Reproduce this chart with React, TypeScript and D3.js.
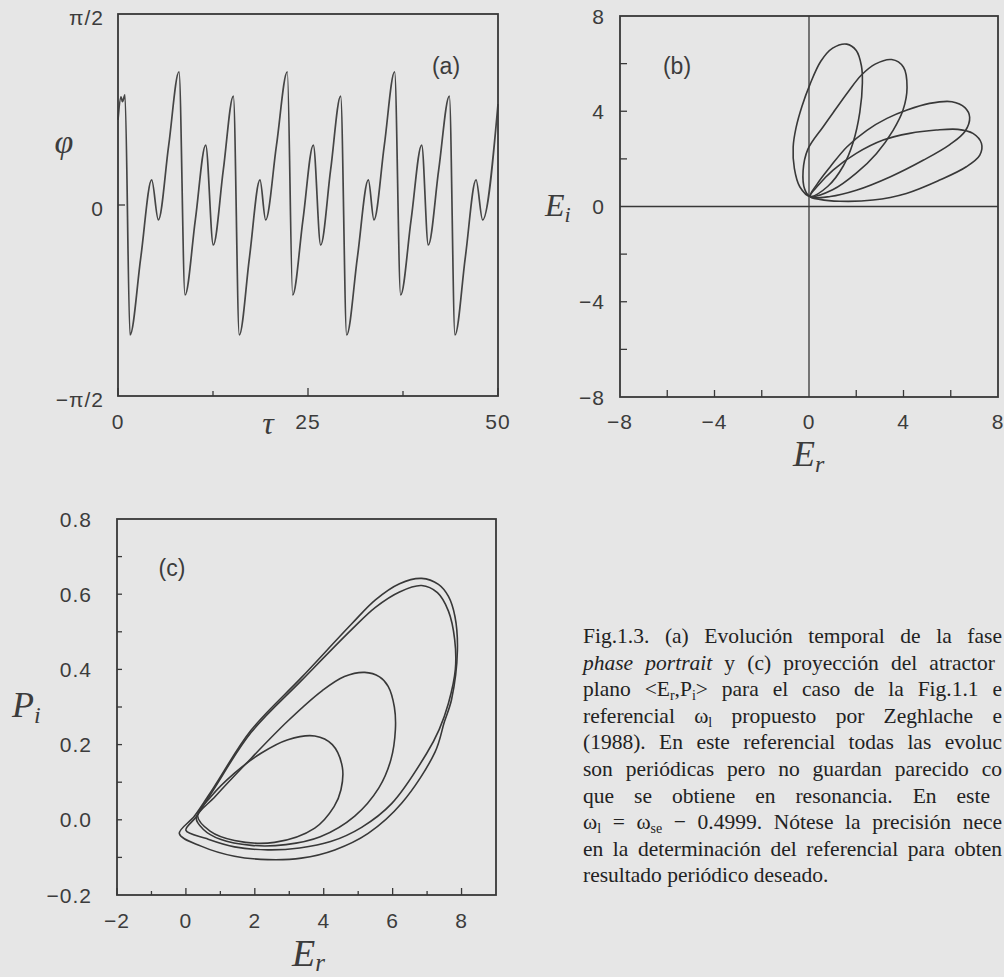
import React, { useLayoutEffect, useRef } from 'react';
import * as d3 from 'd3';

// ---------- panel (a): phase φ against time τ ----------
const tauA = [0, 0.39, 0.59, 0.92,
  1.58, 3.0, 4.43, 5.31, 6.67, 8.03, 8.82, 10.18, 11.54, 12.54, 13.86, 15.18,
  15.96, 17.3, 18.68, 19.43, 20.85, 22.28, 22.98, 24.34, 25.7, 26.67, 27.98, 29.3,
  30.09, 31.5, 32.94, 33.68, 35.04, 36.4, 37.19, 38.57, 39.96, 40.83, 42.2, 43.6,
  44.34, 45.7, 47.11, 47.98, 50];
const phiA = [0.7, 0.89, 0.85, 0.905,
  -1.069, -0.43, 0.206, -0.123, 0.49, 1.096, -0.74, -0.12, 0.493, -0.329, 0.29, 0.896,
  -1.069, -0.43, 0.206, -0.123, 0.49, 1.096, -0.74, -0.12, 0.493, -0.329, 0.29, 0.896,
  -1.069, -0.43, 0.206, -0.123, 0.49, 1.096, -0.74, -0.12, 0.493, -0.329, 0.29, 0.896,
  -1.069, -0.43, 0.206, -0.123, 0.83];
const tauTicks = [0, 25, 50];
const tauMinor = [12.5, 37.5];
const phiTicks = [Math.PI / 2, 0, -Math.PI / 2];
const phiTickLabels = ['π/2', '0', '−π/2'];

// ---------- panel (b): phase portrait (Er, Ei), four petals ----------
const petal1: [number, number][] = [
  [0.05, 0.42], [-0.39, 0.83], [-0.62, 1.6], [-0.67, 2.5], [-0.55, 3.3], [-0.3, 4.2],
  [0.05, 5.15], [0.5, 6.1], [1.0, 6.65], [1.6, 6.82], [2.0, 6.55], [2.22, 5.9],
  [2.26, 5.2], [2.15, 3.95], [1.87, 2.7], [1.45, 1.7], [0.8, 0.85]];
const petal2: [number, number][] = [
  [0.05, 0.42], [-0.18, 0.72], [-0.25, 1.5], [-0.05, 2.4], [0.6, 3.35], [1.1, 4.05],
  [1.66, 4.82], [2.22, 5.52], [2.8, 5.98], [3.5, 6.17], [4.0, 5.85], [4.15, 5.0],
  [3.98, 4.05], [3.56, 3.2], [2.86, 2.23], [2.0, 1.4], [1.0, 0.7]];
const petal3: [number, number][] = [
  [0.05, 0.42], [0.35, 0.95], [0.9, 1.67], [1.6, 2.5], [2.45, 3.2], [3.3, 3.7],
  [4.15, 4.05], [5.1, 4.33], [6.05, 4.4], [6.6, 4.15], [6.8, 3.75], [6.6, 3.15],
  [5.96, 2.6], [4.85, 1.95], [3.45, 1.25], [2.0, 0.68], [0.9, 0.42]];
const petal4: [number, number][] = [
  [0.05, 0.42], [0.4, 0.9], [1.02, 1.53], [2.0, 2.23], [3.14, 2.79], [4.26, 3.07],
  [5.39, 3.21], [6.3, 3.24], [6.94, 3.07], [7.3, 2.65], [7.23, 2.16], [6.66, 1.67],
  [5.53, 1.11], [4.12, 0.55], [2.71, 0.27], [1.3, 0.22], [0.46, 0.3]];
const bLabelTicks = [-8, -4, 0, 4, 8];
const bTickMarks = [-6, -4, -2, 2, 4, 6];

// ---------- panel (c): projection onto (Er, Pi) ----------
const loopA: [number, number][] = [
  [-0.19, -0.037], [0.25, 0.01], [0.8, 0.085], [1.89, 0.238], [3.35, 0.378], [4.8, 0.52],
  [5.5, 0.585], [6.2, 0.628], [6.84, 0.642], [7.33, 0.626], [7.62, 0.594], [7.81, 0.54],
  [7.88, 0.45], [7.71, 0.32], [7.5, 0.26], [7.23, 0.18], [6.26, 0.044], [5.29, -0.036],
  [4.32, -0.08], [3.35, -0.102], [2.38, -0.106], [1.41, -0.097], [0.44, -0.07]];
const loopB: [number, number][] = [
  [0.0, -0.028], [0.3, 0.008], [0.8, 0.08], [1.89, 0.232], [3.35, 0.37], [4.8, 0.505],
  [5.5, 0.565], [6.2, 0.606], [6.84, 0.623], [7.3, 0.604], [7.62, 0.555], [7.8, 0.48],
  [7.82, 0.4], [7.62, 0.31], [7.35, 0.24], [6.99, 0.177], [5.97, 0.043], [5.1, -0.02],
  [4.2, -0.058], [3.3, -0.075], [2.38, -0.08], [1.41, -0.072], [0.6, -0.05]];
const loopC: [number, number][] = [
  [0.3, 0.005], [0.85, 0.062], [1.7, 0.145], [2.95, 0.262], [3.95, 0.343], [4.6, 0.381],
  [5.19, 0.392], [5.62, 0.38], [5.87, 0.355], [6.05, 0.3], [6.08, 0.24], [5.95, 0.16],
  [5.6, 0.085], [4.9, 0.01], [3.9, -0.045], [2.9, -0.066], [1.9, -0.068], [1.0, -0.052],
  [0.5, -0.025]];
const loopD: [number, number][] = [
  [0.34, 0.01], [0.73, 0.062], [1.41, 0.124], [2.18, 0.177], [2.96, 0.213], [3.74, 0.223],
  [4.25, 0.2], [4.54, 0.14], [4.5, 0.08], [4.3, 0.035], [3.74, -0.022], [2.57, -0.06],
  [1.41, -0.055], [0.7, -0.03]];
const cXLabels = [-2, 0, 2, 4, 6, 8];
const cXMinor = [-1, 1, 3, 5, 7];
const cYLabels = [-0.2, 0.0, 0.2, 0.4, 0.6, 0.8];
const cYMarks = [-0.1, 0.0, 0.1, 0.2, 0.3, 0.4, 0.5, 0.6, 0.7];

const INK = '#383838';
const CURVE = '#383838';
const TXT = '#3c3c3c';
const TICKFONT = '"Liberation Sans", Arial, sans-serif';
const SERIF = '"Liberation Serif", "Times New Roman", serif';

function PanelA() {
  const x = d3.scaleLinear().domain([0, 50]).range([118, 498]);
  const y = d3.scaleLinear().domain([-Math.PI / 2, Math.PI / 2]).range([396, 14]);
  const pts = tauA.map((t, i) => [t, phiA[i]] as [number, number]);
  const path = d3.line<[number, number]>().x(d => x(d[0])).y(d => y(d[1])).curve(d3.curveMonotoneX)(pts) || '';
  return (
    <g>
      <path d={path} fill="none" stroke="#454545" strokeWidth={1.7} strokeLinejoin="round" />
      <rect x={118} y={14} width={380} height={382} fill="none" stroke={INK} strokeWidth={1.8} />
      {tauMinor.map(t => <line key={t} x1={x(t)} x2={x(t)} y1={396} y2={391} stroke={INK} strokeWidth={1.3} />)}
      {tauTicks.map(t => <line key={t} x1={x(t)} x2={x(t)} y1={396} y2={388} stroke={INK} strokeWidth={1.3} />)}
      <line x1={118} x2={125} y1={y(0)} y2={y(0)} stroke={INK} strokeWidth={1.3} />
      {tauTicks.map(t => (
        <text key={t} x={x(t)} y={421} textAnchor="middle" dominantBaseline="central"
          fontFamily={TICKFONT} fontSize={21} fill={TXT} letterSpacing={1}>{t}</text>
      ))}
      {phiTicks.map((v, i) => (
        <text key={i} x={104} y={y(v) + 3} textAnchor="end" dominantBaseline="central"
          fontFamily={TICKFONT} fontSize={21} fill={TXT} letterSpacing={1}>{phiTickLabels[i]}</text>
      ))}
      <text x={446} y={66} textAnchor="middle" dominantBaseline="central" fontFamily={TICKFONT} fontSize={23} fill={TXT}>(a)</text>
      <text x={64} y={153} textAnchor="middle" fontFamily={SERIF} fontStyle="italic" fontSize={34} fill={TXT}>φ</text>
      <text x={268} y={434} textAnchor="middle" fontFamily={SERIF} fontStyle="italic" fontSize={32} fill={TXT}>τ</text>
    </g>
  );
}

function PanelB() {
  const x = d3.scaleLinear().domain([-8, 8]).range([620, 998]);
  const y = d3.scaleLinear().domain([-8, 8]).range([397, 16]);
  const closed = d3.line<[number, number]>().x(d => x(d[0])).y(d => y(d[1])).curve(d3.curveCatmullRomClosed.alpha(0.5));
  const petals = [petal1, petal2, petal3, petal4];
  return (
    <g>
      <line x1={x(0)} x2={x(0)} y1={16} y2={397} stroke={INK} strokeWidth={1.3} />
      <line x1={620} x2={998} y1={y(0)} y2={y(0)} stroke={INK} strokeWidth={1.3} />
      {petals.map((p, i) => <path key={i} d={closed(p) || ''} fill="none" stroke={CURVE} strokeWidth={1.6} />)}
      <rect x={620} y={16} width={378} height={381} fill="none" stroke={INK} strokeWidth={1.8} />
      {bTickMarks.map(v => <line key={'bx' + v} x1={x(v)} x2={x(v)} y1={397} y2={390} stroke={INK} strokeWidth={1.3} />)}
      {bTickMarks.map(v => <line key={'by' + v} x1={620} x2={627} y1={y(v)} y2={y(v)} stroke={INK} strokeWidth={1.3} />)}
      {bLabelTicks.map(v => (
        <text key={'lx' + v} x={x(v)} y={421} textAnchor="middle" dominantBaseline="central"
          fontFamily={TICKFONT} fontSize={21} fill={TXT} letterSpacing={1}>{v < 0 ? '−' + Math.abs(v) : v}</text>
      ))}
      {bLabelTicks.map(v => (
        <text key={'ly' + v} x={605} y={y(v)} textAnchor="end" dominantBaseline="central"
          fontFamily={TICKFONT} fontSize={21} fill={TXT} letterSpacing={1}>{v < 0 ? '−' + Math.abs(v) : v}</text>
      ))}
      <text x={677} y={66} textAnchor="middle" dominantBaseline="central" fontFamily={TICKFONT} fontSize={23} fill={TXT}>(b)</text>
      <text x={545} y={216} fontFamily={SERIF} fontStyle="italic" fontSize={32} fill={TXT}>
        E<tspan fontSize={22} dy={6}>i</tspan>
      </text>
      <text x={793} y={466} fontFamily={SERIF} fontStyle="italic" fontSize={36} fill={TXT}>
        E<tspan fontSize={24} dy={6}>r</tspan>
      </text>
    </g>
  );
}

function PanelC() {
  const x = d3.scaleLinear().domain([-2, 9]).range([117, 496]);
  const y = d3.scaleLinear().domain([-0.2, 0.8]).range([895, 519]);
  const closed = d3.line<[number, number]>().x(d => x(d[0])).y(d => y(d[1])).curve(d3.curveCatmullRomClosed.alpha(0.5));
  const loops = [loopA, loopB, loopC, loopD];
  return (
    <g>
      {loops.map((p, i) => <path key={i} d={closed(p) || ''} fill="none" stroke={CURVE} strokeWidth={1.6} />)}
      <rect x={117} y={519} width={379} height={376} fill="none" stroke={INK} strokeWidth={1.8} />
      {cXLabels.map(v => <line key={'cx' + v} x1={x(v)} x2={x(v)} y1={895} y2={888} stroke={INK} strokeWidth={1.3} />)}
      {cXMinor.map(v => <line key={'cm' + v} x1={x(v)} x2={x(v)} y1={895} y2={891} stroke={INK} strokeWidth={1.3} />)}
      {cYMarks.map(v => <line key={'cy' + v} x1={117} x2={122} y1={y(v)} y2={y(v)} stroke={INK} strokeWidth={1.3} />)}
      {cXLabels.map(v => (
        <text key={'lx' + v} x={x(v)} y={920} textAnchor="middle" dominantBaseline="central"
          fontFamily={TICKFONT} fontSize={21} fill={TXT} letterSpacing={1}>{v < 0 ? '−' + Math.abs(v) : v}</text>
      ))}
      {cYLabels.map(v => (
        <text key={'ly' + v} x={92} y={y(v)} textAnchor="end" dominantBaseline="central"
          fontFamily={TICKFONT} fontSize={21} fill={TXT} letterSpacing={1}>{(v < 0 ? '−' : '') + Math.abs(v).toFixed(1)}</text>
      ))}
      <text x={172} y={568} textAnchor="middle" dominantBaseline="central" fontFamily={TICKFONT} fontSize={23} fill={TXT}>(c)</text>
      <text x={12} y={717} fontFamily={SERIF} fontStyle="italic" fontSize={36} fill={TXT}>
        P<tspan fontSize={24} dy={6}>i</tspan>
      </text>
      <text x={292} y={966} fontFamily={SERIF} fontStyle="italic" fontSize={38} fill={TXT}>
        E<tspan fontSize={25} dy={5}>r</tspan>
      </text>
    </g>
  );
}

// A caption line justified by widening the word gaps so that it ends at `right`.
function JustLine({ x, y, right, children }: { x: number; y: number; right?: number; children: React.ReactNode }) {
  const ref = useRef<SVGTextElement>(null);
  useLayoutEffect(() => {
    const el = ref.current;
    if (!el || right == null) return;
    el.style.wordSpacing = '0px';
    const natural = el.getComputedTextLength();
    const gaps = (el.textContent || '').split(' ').length - 1;
    if (gaps > 0) el.style.wordSpacing = `${Math.max(0, (right - x - natural) / gaps)}px`;
  }, [x, right]);
  return (
    <text ref={ref} x={x} y={y} fontFamily={SERIF} fontSize={21.5} fill="#222">{children}</text>
  );
}

function Caption() {
  const x0 = 583;
  const y0 = 643;
  const dy = 26.6;
  const sub = 14;
  return (
    <g>
      <JustLine x={x0} y={y0} right={1002}>Fig.1.3. (a) Evolución temporal de la fase</JustLine>
      <JustLine x={x0} y={y0 + dy} right={995}>
        <tspan fontStyle="italic">phase portrait</tspan> y (c) proyección del atractor
      </JustLine>
      <JustLine x={x0} y={y0 + 2 * dy} right={1002}>
        plano &lt;E<tspan fontSize={sub} dy={4}>r</tspan><tspan dy={-4}>,P</tspan><tspan fontSize={sub} dy={4}>i</tspan><tspan dy={-4}>&gt; para el caso de la Fig.1.1 e</tspan>
      </JustLine>
      <JustLine x={x0} y={y0 + 3 * dy} right={1002}>
        referencial ω<tspan fontSize={sub} dy={4}>l</tspan><tspan dy={-4}> propuesto por Zeghlache e</tspan>
      </JustLine>
      <JustLine x={x0} y={y0 + 4 * dy} right={1002}>(1988). En este referencial todas las evoluc</JustLine>
      <JustLine x={x0} y={y0 + 5 * dy} right={1002}>son periódicas pero no guardan parecido co</JustLine>
      <JustLine x={x0} y={y0 + 6 * dy} right={990}>que se obtiene en resonancia. En este</JustLine>
      <JustLine x={x0} y={y0 + 7 * dy} right={1002}>
        ω<tspan fontSize={sub} dy={4}>l</tspan><tspan dy={-4}> = ω</tspan><tspan fontSize={sub} dy={4}>se</tspan><tspan dy={-4}> − 0.4999. Nótese la precisión nece</tspan>
      </JustLine>
      <JustLine x={x0} y={y0 + 8 * dy} right={1002}>en la determinación del referencial para obten</JustLine>
      <JustLine x={x0} y={y0 + 9 * dy}>resultado periódico deseado.</JustLine>
    </g>
  );
}

export default function App() {
  return (
    <svg width={1004} height={977} viewBox="0 0 1004 977"
      style={{ position: 'absolute', left: 0, top: 0, display: 'block' }}>
      <rect x={0} y={0} width={1004} height={977} fill="#e6e6e6" />
      <PanelA />
      <PanelB />
      <PanelC />
      <Caption />
    </svg>
  );
}
